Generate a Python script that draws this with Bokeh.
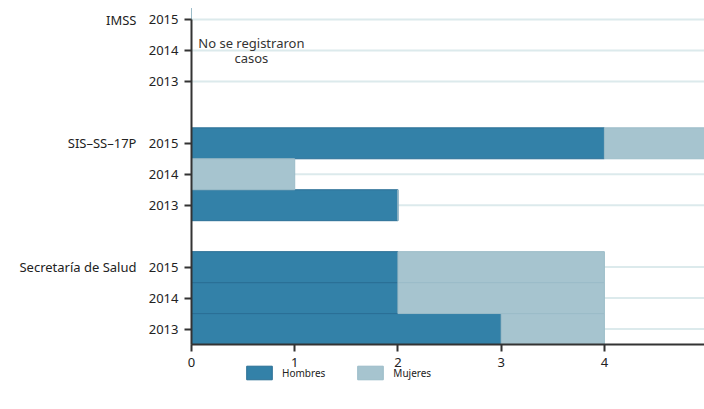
from bokeh.plotting import figure
from bokeh.models import ColumnDataSource, FixedTicker, LinearAxis, Range1d, Legend, LegendItem
from bokeh.core.properties import value
from bokeh.embed import file_html
from bokeh.resources import INLINE

groups = ["Secretaría de Salud", "SIS–SS–17P", "IMSS"]
years = ["2013", "2014", "2015"]
hombres = {"Secretaría de Salud": [3, 2, 2], "SIS–SS–17P": [2, 0, 4], "IMSS": [0, 0, 0]}
mujeres = {"Secretaría de Salud": [1, 2, 2], "SIS–SS–17P": [0, 1, 1], "IMSS": [0, 0, 0]}
note_text = "No se registraron\ncasos"
x_ticks = [0, 1, 2, 3, 4]

C_H = "#3381a8"
C_M = "#a6c4cf"
FONT = "Noto Sans"

pos, lab, h, m = [], [], [], []
for gi, g in enumerate(groups):
    for yi, y in enumerate(years):
        pos.append(gi * (len(years) + 1) + yi)
        lab.append(y)
        h.append(hombres[g][yi])
        m.append(mujeres[g][yi])
src = ColumnDataSource(dict(pos=pos, Hombres=h, Mujeres=m))

top = max(pos)
bottom = -0.5
px_y = 325 / (top - bottom)
top_pad = 11
frame_h = 376 + top_pad
y_end = top + top_pad / px_y
y_start = y_end - frame_h / px_y

x_end = 4.97
px_x = 513 / x_end
left_pad = 51
x_start = -left_pad / px_x

p = figure(frame_width=513 + left_pad, frame_height=frame_h, output_backend="svg",
           toolbar_location=None,
           x_range=Range1d(x_start, x_end), y_range=Range1d(y_start, y_end),
           min_border_left=140, min_border_right=0, min_border_top=19 - top_pad,
           min_border_bottom=0, outline_line_color=None)
p.grid.visible = False

# row guide lines from the axis to the right edge
p.segment(x0=[0] * len(pos), x1=[x_end] * len(pos), y0=pos, y1=pos,
          line_color="#dceaec", line_width=2)

r = p.hbar_stack(["Hombres", "Mujeres"], y="pos", height=1.0, source=src,
                 fill_color=[C_H, C_M], line_color=["#2b6f95", "#9bbcc8"], line_width=1)

xa = p.xaxis[0]
xa.ticker = FixedTicker(ticks=x_ticks)
xa.fixed_location = bottom
xa.bounds = (0, x_end)
ya = p.yaxis[0]
ya.ticker = FixedTicker(ticks=pos)
ya.fixed_location = 0
ya.bounds = (bottom, top)
ya.major_label_overrides = {pp: l for pp, l in zip(pos, lab)}
for ax in (xa, ya):
    ax.axis_line_color = "#333333"
    ax.axis_line_width = 2
    ax.major_tick_line_color = "#333333"
    ax.major_tick_line_width = 2
    ax.major_tick_out = 7
    ax.major_tick_in = 0
    ax.minor_tick_line_color = None
    ax.major_label_text_font = FONT
    ax.major_label_text_font_size = "13px"
    ax.major_label_text_color = "#222222"
xa.major_label_standoff = 6
ya.major_label_standoff = 6

gpos = [gi * (len(years) + 1) + len(years) - 1 for gi in range(len(groups))]
ga = LinearAxis(ticker=FixedTicker(ticks=gpos),
                major_label_overrides={gp: g for gp, g in zip(gpos, groups)},
                axis_line_color=None, major_tick_line_color=None, minor_tick_line_color=None,
                major_tick_out=0, major_tick_in=0,
                major_label_text_font=FONT, major_label_text_font_size="13px",
                major_label_text_color="#222222", major_label_standoff=4)
p.add_layout(ga, "left")

imss_i = groups.index("IMSS")
p.text(x=[0.58], y=[imss_i * (len(years) + 1) + 1.0], text=[note_text],
       text_align="center", text_baseline="middle", text_font=value(FONT),
       text_font_size="13px", text_color="#333333", text_line_height=0.85)

legend = Legend(items=[LegendItem(label="Hombres", renderers=[r[0]]),
                       LegendItem(label="Mujeres", renderers=[r[1]])],
                orientation="horizontal", location=(left_pad + 52, 14),
                glyph_width=32, glyph_height=17, label_text_font=FONT,
                label_text_font_size="10px", label_text_color="#222222",
                spacing=29, border_line_color=None, background_fill_alpha=0,
                padding=2, margin=0, label_standoff=7)
p.add_layout(legend, "center")

open("out.html", "w").write(file_html(p, INLINE))
